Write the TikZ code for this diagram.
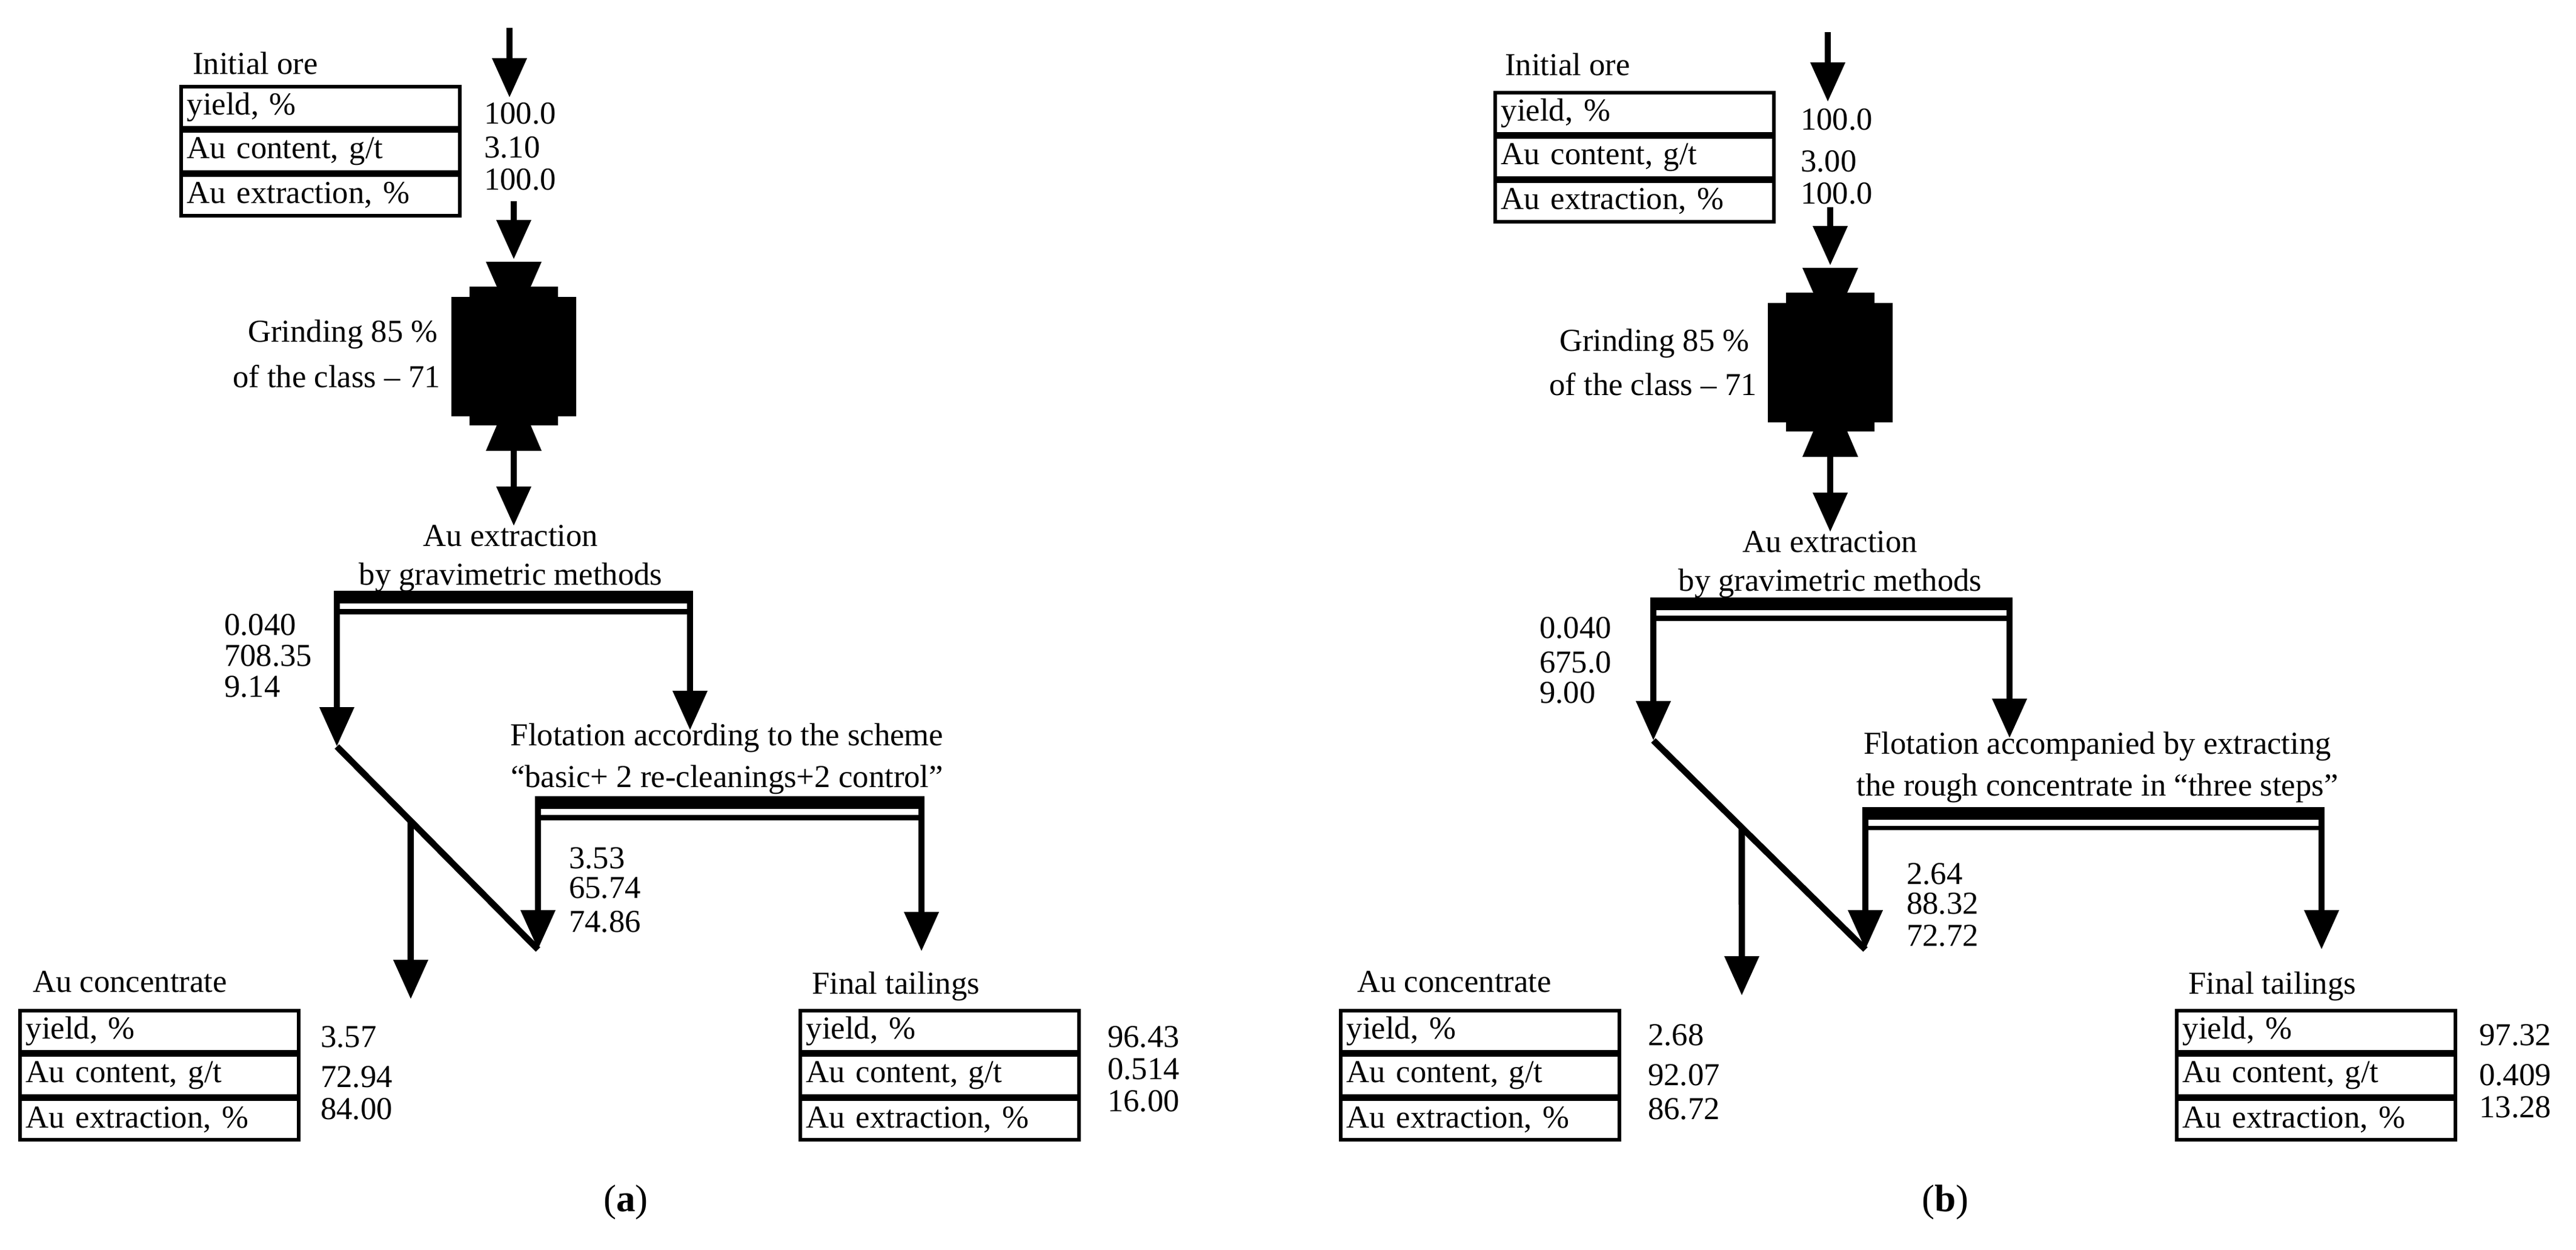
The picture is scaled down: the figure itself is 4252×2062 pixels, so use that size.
\documentclass[tikz,border=0pt]{standalone}
\usepackage{fontspec}
\setmainfont{Liberation Serif}
\usepackage{tikz}
\usetikzlibrary{arrows.meta,positioning,calc}

\tikzset{
  flow/.style={line width=3pt,-{Triangle[length=6.5mm,width=5.5mm]}},
  pipe/.style={line width=3pt},
  cell/.style={draw,line width=1.6pt,minimum width=46mm,minimum height=6.7mm,
    text width=44mm,align=left,inner sep=1mm},
  lbl/.style={font=\fontsize{15}{18}\selectfont,inner sep=1pt},
  val/.style={lbl,anchor=west},
}
% grinding mill, local coordinates from its top centre
\newcommand\millbody{%
  \fill (-46,0) -- (46,0) -- (28,41) -- (73,41) -- (73,58) -- (103,58) -- (103,255)
    -- (73,255) -- (73,270) -- (28,270) -- (46,312) -- (-46,312) -- (-28,270)
    -- (-73,270) -- (-73,255) -- (-103,255) -- (-103,58) -- (-73,58) -- (-73,41)
    -- (-28,41) -- cycle;}

\begin{document}
\begin{tikzpicture}[x=0.1mm,y=-0.1mm,font=\fontsize{15}{18}\selectfont]
\useasboundingbox (0,0) rectangle (4252,2062);

% (a)
\coordinate (a0) at (841,46);
\coordinate (a1) at (841,161);
\draw[flow] (a0) -- (a1);
\node[lbl,anchor=base west] (aore) at (314,122) {Initial ore};
\node[cell,anchor=north west] (ar1) at (296,140) {yield, \%};
\node[cell,below=0pt of ar1] (ar2) {Au content, g/t};
\node[cell,below=0pt of ar2] (ar3) {Au extraction, \%};
\node[val] (av1) at (795,187) {100.0};
\node[val] (av2) at (795,243) {3.10};
\node[val] (av3) at (795,296) {100.0};
\coordinate (a2) at (848,332);
\coordinate (amt) at (848,428);
\draw[flow] (a2) -- (amt);
\begin{scope}[shift={(848,432)}]\millbody\end{scope}
\coordinate (amb) at (848,744);
\coordinate (ag) at (848,868);
\draw[flow] (amb) -- (ag);
\node[lbl,anchor=west] (agrind1) at (405,552) {Grinding 85 \%};
\node[lbl,anchor=west] (agrind2) at (380,621) {of the class -- 71};
\node[lbl] (agrav1) at (843,884) {Au extraction};
\node[lbl] (agrav2) at (843,953) {by gravimetric methods};
\fill (556,975) rectangle (1139,996);
\fill (556,1005) rectangle (1139,1014);
\coordinate (agl) at (556,975);
\coordinate (agr) at (1139,975);
\coordinate (ad0) at (556,1232);
\coordinate (af0) at (1139,1205);
\draw[flow] (agl) -- (ad0);
\draw[flow] (agr) -- (af0);
\node[val] at (366,1031) {0.040};
\node[val] at (366,1082) {708.35};
\node[val] at (366,1133) {9.14};
\coordinate (ad1) at (888,1567);
\draw[pipe] (ad0) -- (ad1);
\coordinate (ac0) at ($(ad0)!0.367!(ad1)$);
\coordinate (ac1) at (678,1649);
\draw[flow] (ac0) -- (ac1);
\node[lbl] (aflot1) at (1200,1218) {Flotation according to the scheme};
\node[lbl] (aflot2) at (1200,1287) {``basic+ 2 re-cleanings+2 control''};
\fill (888,1314) rectangle (1521,1335);
\fill (888,1345) rectangle (1521,1354);
\coordinate (afl) at (888,1314);
\coordinate (afr) at (1521,1314);
\coordinate (at0) at (1521,1570);
\draw[flow] (afl) -- (ad1);
\draw[flow] (afr) -- (at0);
\node[val] at (935,1416) {3.53};
\node[val] at (935,1465) {65.74};
\node[val] at (935,1521) {74.86};
\node[lbl,anchor=base west] (aconc) at (50,1637) {Au concentrate};
\node[cell,anchor=north west] (ac1r) at (30,1665) {yield, \%};
\node[cell,below=0pt of ac1r] (ac2r) {Au content, g/t};
\node[cell,below=0pt of ac2r] (ac3r) {Au extraction, \%};
\node[val] at (525,1711) {3.57};
\node[val] at (525,1777) {72.94};
\node[val] at (525,1830) {84.00};
\node[lbl,anchor=base west] (atail) at (1336,1640) {Final tailings};
\node[cell,anchor=north west] (at1r) at (1318,1665) {yield, \%};
\node[cell,below=0pt of at1r] (at2r) {Au content, g/t};
\node[cell,below=0pt of at2r] (at3r) {Au extraction, \%};
\node[val] at (1824,1711) {96.43};
\node[val] at (1824,1764) {0.514};
\node[val] at (1824,1817) {16.00};
\node[lbl,font=\fontsize{18}{20}\selectfont] (acap) at (1033,1984) {(\textbf{a})};

% (b)
\coordinate (b0) at (3017,53);
\coordinate (b1) at (3017,168);
\draw[flow] (b0) -- (b1);
\node[lbl,anchor=base west] (bore) at (2480,124) {Initial ore};
\node[cell,anchor=north west] (br1) at (2465,150) {yield, \%};
\node[cell,below=0pt of br1] (br2) {Au content, g/t};
\node[cell,below=0pt of br2] (br3) {Au extraction, \%};
\node[val] (bv1) at (2968,197) {100.0};
\node[val] (bv2) at (2968,266) {3.00};
\node[val] (bv3) at (2968,319) {100.0};
\coordinate (b2) at (3021,342);
\coordinate (bmt) at (3021,438);
\draw[flow] (b2) -- (bmt);
\begin{scope}[shift={(3021,442)}]\millbody\end{scope}
\coordinate (bmb) at (3021,754);
\coordinate (bg) at (3021,878);
\draw[flow] (bmb) -- (bg);
\node[lbl,anchor=west] (bgrind1) at (2570,567) {Grinding 85 \%};
\node[lbl,anchor=west] (bgrind2) at (2553,634) {of the class -- 71};
\node[lbl] (bgrav1) at (3021,894) {Au extraction};
\node[lbl] (bgrav2) at (3021,963) {by gravimetric methods};
\fill (2729,986) rectangle (3317,1007);
\fill (2729,1016) rectangle (3317,1025);
\coordinate (bgl) at (2729,986);
\coordinate (bgr) at (3317,986);
\coordinate (bd0) at (2729,1222);
\coordinate (bf0) at (3317,1218);
\draw[flow] (bgl) -- (bd0);
\draw[flow] (bgr) -- (bf0);
\node[val] at (2537,1036) {0.040};
\node[val] at (2537,1093) {675.0};
\node[val] at (2537,1143) {9.00};
\coordinate (bd1) at (3079,1567);
\draw[pipe] (bd0) -- (bd1);
\coordinate (bc0) at ($(bd0)!0.417!(bd1)$);
\coordinate (bc1) at (2875,1643);
\draw[flow] (bc0) -- (bc1);
\node[lbl] (bflot1) at (3462,1232) {Flotation accompanied by extracting};
\node[lbl] (bflot2) at (3462,1301) {the rough concentrate in ``three steps''};
\fill (3079,1332) rectangle (3832,1353);
\fill (3079,1363) rectangle (3832,1370);
\coordinate (bfl) at (3079,1332);
\coordinate (bfr) at (3832,1332);
\coordinate (bt0) at (3832,1567);
\draw[flow] (bfl) -- (bd1);
\draw[flow] (bfr) -- (bt0);
\node[val] at (3143,1442) {2.64};
\node[val] at (3143,1491) {88.32};
\node[val] at (3143,1544) {72.72};
\node[lbl,anchor=base west] (bconc) at (2236,1637) {Au concentrate};
\node[cell,anchor=north west] (bc1r) at (2210,1665) {yield, \%};
\node[cell,below=0pt of bc1r] (bc2r) {Au content, g/t};
\node[cell,below=0pt of bc2r] (bc3r) {Au extraction, \%};
\node[val] at (2716,1708) {2.68};
\node[val] at (2716,1774) {92.07};
\node[val] at (2716,1830) {86.72};
\node[lbl,anchor=base west] (btail) at (3608,1640) {Final tailings};
\node[cell,anchor=north west] (bt1r) at (3590,1665) {yield, \%};
\node[cell,below=0pt of bt1r] (bt2r) {Au content, g/t};
\node[cell,below=0pt of bt2r] (bt3r) {Au extraction, \%};
\node[val] at (4088,1708) {97.32};
\node[val] at (4088,1774) {0.409};
\node[val] at (4088,1827) {13.28};
\node[lbl,font=\fontsize{18}{20}\selectfont] (bcap) at (3211,1984) {(\textbf{b})};
\end{tikzpicture}
\end{document}
